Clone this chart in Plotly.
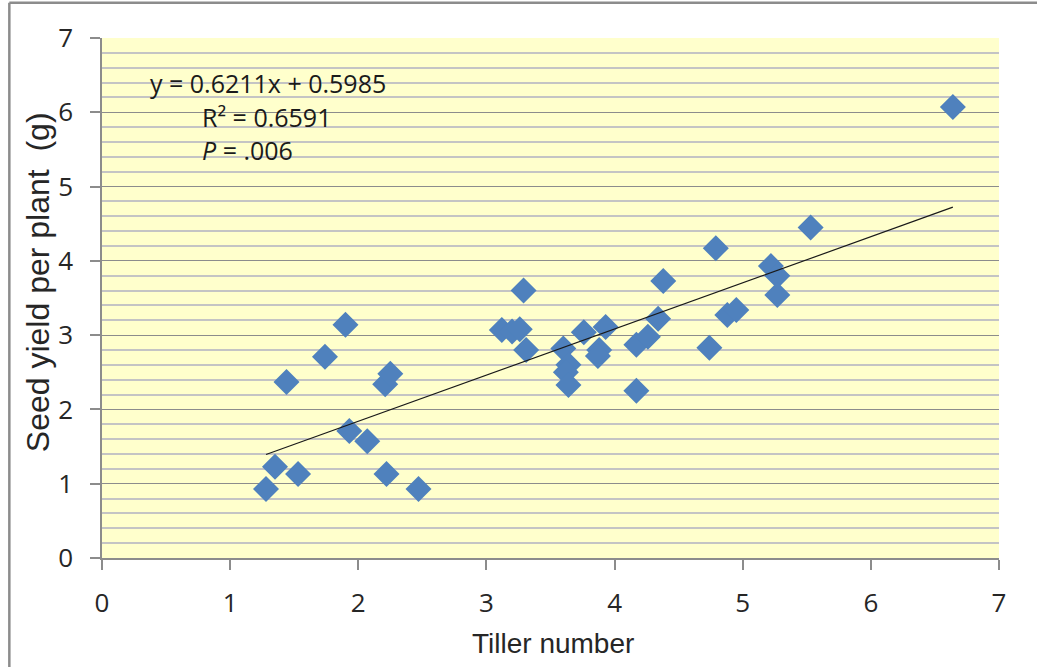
import plotly.graph_objects as go

tiller = [1.28, 1.35, 1.44, 1.53, 1.74, 1.90, 1.93, 2.07, 2.21, 2.25, 2.22, 2.47,
          3.12, 3.20, 3.26, 3.29, 3.31, 3.60, 3.64, 3.62, 3.64, 3.76, 3.93, 3.88, 3.87,
          4.17, 4.26, 4.34, 4.38, 4.17, 4.74, 4.79, 4.88, 4.95, 5.22, 5.27, 5.27, 5.53, 6.64]
seed_yield = [0.93, 1.23, 2.37, 1.13, 2.71, 3.14, 1.71, 1.57, 2.34, 2.48, 1.13, 0.93,
              3.07, 3.05, 3.08, 3.60, 2.80, 2.82, 2.60, 2.50, 2.33, 3.04, 3.11, 2.80, 2.72,
              2.87, 2.98, 3.22, 3.73, 2.25, 2.83, 4.17, 3.27, 3.34, 3.93, 3.80, 3.54, 4.45, 6.07]
slope = 0.6211
intercept = 0.5985
eq_lines = ["y = 0.6211x + 0.5985", "R² = 0.6591", "<i>P</i> = .006"]
x_title = "Tiller number"
y_title = "Seed yield per plant  (g)"

x_line = [min(tiller), max(tiller)]
y_line = [slope * v + intercept for v in x_line]

fig = go.Figure()
fig.add_trace(go.Scatter(x=tiller, y=seed_yield, mode="markers",
                         marker=dict(symbol="diamond", size=20, color="#4F81BD",
                                     line=dict(width=0)),
                         showlegend=False))
fig.add_trace(go.Scatter(x=x_line, y=y_line, mode="lines",
                         line=dict(color="#1a1a1a", width=1.2), showlegend=False))

tick_font = dict(family="Open Sans", size=26, color="#262626")
fig.update_xaxes(range=[0, 7], dtick=1, tick0=0, showgrid=False, zeroline=False,
                 showline=True, linecolor="#8c8c8c", linewidth=1.5,
                 ticks="outside", ticklen=10, tickcolor="#8c8c8c", tickwidth=1.5,
                 tickfont=tick_font, ticklabelstandoff=11)
fig.update_yaxes(range=[0, 7], dtick=1, tick0=0, showgrid=True, gridcolor="#8c8c8c",
                 gridwidth=1.2, zeroline=False, showline=True, linecolor="#8c8c8c",
                 linewidth=1.5, ticks="outside", ticklen=10, tickcolor="#8c8c8c",
                 tickwidth=1.5, tickfont=tick_font, ticklabelstandoff=12,
                 minor=dict(dtick=0.2, showgrid=True, gridcolor="#c4c4c4", gridwidth=1.5))

title_font = dict(family="Liberation Sans", size=28, color="#262626")
fig.add_annotation(xref="paper", yref="paper", x=0.503, y=-0.164, text=x_title,
                   showarrow=False, xanchor="center", yanchor="middle", font=title_font)
fig.add_annotation(xref="paper", yref="paper", x=-0.071, y=0.531, text=y_title,
                   showarrow=False, xanchor="center", yanchor="middle", textangle=-90,
                   font=dict(family="Liberation Sans", size=32, color="#262626"))

ann_font = dict(family="Open Sans", size=25, color="#1a1a1a")
fig.add_annotation(x=0.362, y=6.40, text=eq_lines[0], showarrow=False,
                   xanchor="left", yanchor="middle", font=ann_font)
fig.add_annotation(x=0.768, y=5.94, text=eq_lines[1], showarrow=False,
                   xanchor="left", yanchor="middle", font=ann_font)
fig.add_annotation(x=0.768, y=5.49, text=eq_lines[2], showarrow=False,
                   xanchor="left", yanchor="middle", font=ann_font)

fig.add_shape(type="line", xref="paper", yref="paper", x0=-0.1033, x1=1.3,
              y0=1.068, y1=1.068, line=dict(color="#8c8c8c", width=2.5))
fig.add_shape(type="line", xref="paper", yref="paper", x0=-0.1033, x1=-0.1033,
              y0=1.068, y1=-0.4, line=dict(color="#8c8c8c", width=2.5))

fig.update_layout(width=1037, height=667,
                  margin=dict(l=102, r=38, t=38, b=109, autoexpand=False),
                  plot_bgcolor="#FFFFCC", paper_bgcolor="white")

fig.write_html("out.html")
